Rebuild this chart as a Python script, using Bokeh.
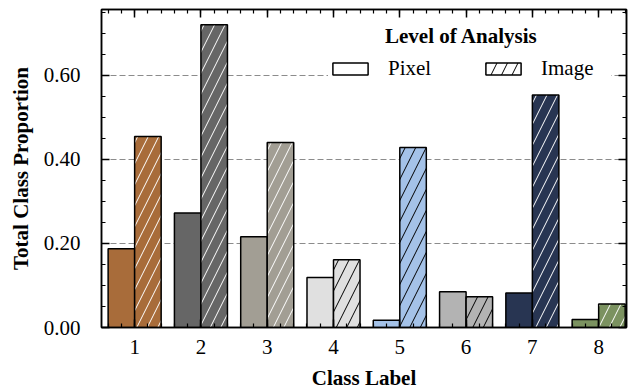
from bokeh.plotting import figure
from bokeh.models import (ColumnDataSource, FixedTicker, LinearAxis, NumeralTickFormatter,
                          Legend, LegendItem, Label, Range1d)
from bokeh.transform import dodge
from bokeh.embed import file_html
from bokeh.resources import INLINE

# ---- data ----
classes = [1, 2, 3, 4, 5, 6, 7, 8]
class_labels = ["1", "2", "3", "4", "5", "6", "7", "8"]
pixel = [0.187, 0.272, 0.216, 0.119, 0.017, 0.085, 0.082, 0.019]
image = [0.454, 0.720, 0.440, 0.161, 0.428, 0.073, 0.553, 0.056]
colors = ["#a86c3a", "#666666", "#a29e94", "#e0e0e0", "#a4c2e8", "#b3b3b3", "#283552", "#7b9260"]
hatch_colors = ["white", "white", "white", "black", "black", "black", "white", "white"]
y_major = [0.0, 0.2, 0.4, 0.6]
y_minor = [0.05 * i for i in range(0, 16)]
x_minor = [0.6 + 0.2 * i for i in range(0, 40)]

FONT = "Liberation Serif"
FS = "21px"

src = ColumnDataSource(dict(cls=classes, pixel=pixel, image=image,
                            color=colors, hcolor=hatch_colors))

p = figure(width=635, height=392, output_backend="svg", toolbar_location=None,
           x_range=Range1d(0.5, 8.42), y_range=Range1d(0, 0.756),
           min_border_left=101, min_border_right=9, min_border_top=9, min_border_bottom=63)

p.xgrid.visible = False
p.ygrid.ticker = FixedTicker(ticks=[0.2, 0.4, 0.6])
p.ygrid.grid_line_color = "#8c8c8c"
p.ygrid.grid_line_dash = "6 3"
p.ygrid.grid_line_width = 1

p.vbar(x=dodge("cls", -0.2, range=p.x_range), top="pixel", width=0.4, source=src,
       fill_color="color", line_color="black", line_width=1.5)
p.vbar(x=dodge("cls", 0.2, range=p.x_range), top="image", width=0.4, source=src,
       fill_color="color", line_color="black", line_width=1.5,
       hatch_pattern="/", hatch_color="hcolor", hatch_scale=21, hatch_weight=1)

p.outline_line_color = "black"
p.outline_line_width = 1.5

xt = FixedTicker(ticks=classes, minor_ticks=x_minor)
yt = FixedTicker(ticks=y_major, minor_ticks=y_minor)

def style(ax, show_labels):
    ax.major_tick_in = 8
    ax.major_tick_out = 0
    ax.minor_tick_in = 4
    ax.minor_tick_out = 0
    ax.major_tick_line_width = 1.5
    ax.minor_tick_line_width = 1.2
    ax.axis_line_width = 1.5
    ax.axis_line_color = "black"
    ax.major_tick_line_color = "black"
    ax.minor_tick_line_color = "black"
    ax.major_label_text_font = FONT
    ax.major_label_text_font_size = FS if show_labels else "0px"
    ax.major_label_text_color = "black"
    ax.axis_label_text_font = FONT
    ax.axis_label_text_font_size = FS
    ax.axis_label_text_font_style = "bold"
    ax.axis_label_text_color = "black"
    if not show_labels:
        ax.major_label_standoff = 0

xa = p.xaxis[0]
xa.ticker = xt
xa.major_label_overrides = {c: l for c, l in zip(classes, class_labels)}
xa.axis_label = "Class Label"
style(xa, True)
xa.major_label_standoff = 12
xa.axis_label_standoff = 9

ya = p.yaxis[0]
ya.ticker = yt
ya.formatter = NumeralTickFormatter(format="0.00")
ya.axis_label = "Total Class Proportion"
style(ya, True)
ya.major_label_standoff = 21
ya.axis_label_standoff = 8

top_ax = LinearAxis(ticker=xt)
style(top_ax, False)
p.add_layout(top_ax, "above")
right_ax = LinearAxis(ticker=yt)
style(right_ax, False)
p.add_layout(right_ax, "right")

# legend proxies (hidden renderers that carry the legend look)
proxy_src = ColumnDataSource(dict(cls=classes[:1], pixel=pixel[:1]))
r_pix = p.vbar(x="cls", top="pixel", width=0.4, source=proxy_src,
               fill_color="white", line_color="black", line_width=1.5)
r_img = p.vbar(x="cls", top="pixel", width=0.4, source=proxy_src,
               fill_color="white", line_color="black", line_width=1.5,
               hatch_pattern="/", hatch_color="black", hatch_scale=21, hatch_weight=1)
r_pix.visible = False
r_img.visible = False
legend = Legend(items=[LegendItem(label="Pixel", renderers=[r_pix]),
                       LegendItem(label="Image", renderers=[r_img])],
                orientation="horizontal", location=(227, 246), click_policy="none",
                glyph_width=44, glyph_height=15, label_standoff=16, label_width=70,
                spacing=23, padding=8, margin=0,
                border_line_color=None, background_fill_color="white", background_fill_alpha=1,
                inactive_fill_alpha=0,
                label_text_font=FONT, label_text_font_size=FS, label_text_color="black")
p.add_layout(legend, "center")

title = Label(x=5.93, y=0.692, text="Level of Analysis", text_font=FONT, text_font_size=FS,
              text_font_style="bold", text_align="center", text_baseline="alphabetic",
              text_color="black")
p.add_layout(title)

open("out.html", "w").write(file_html(p, INLINE))
